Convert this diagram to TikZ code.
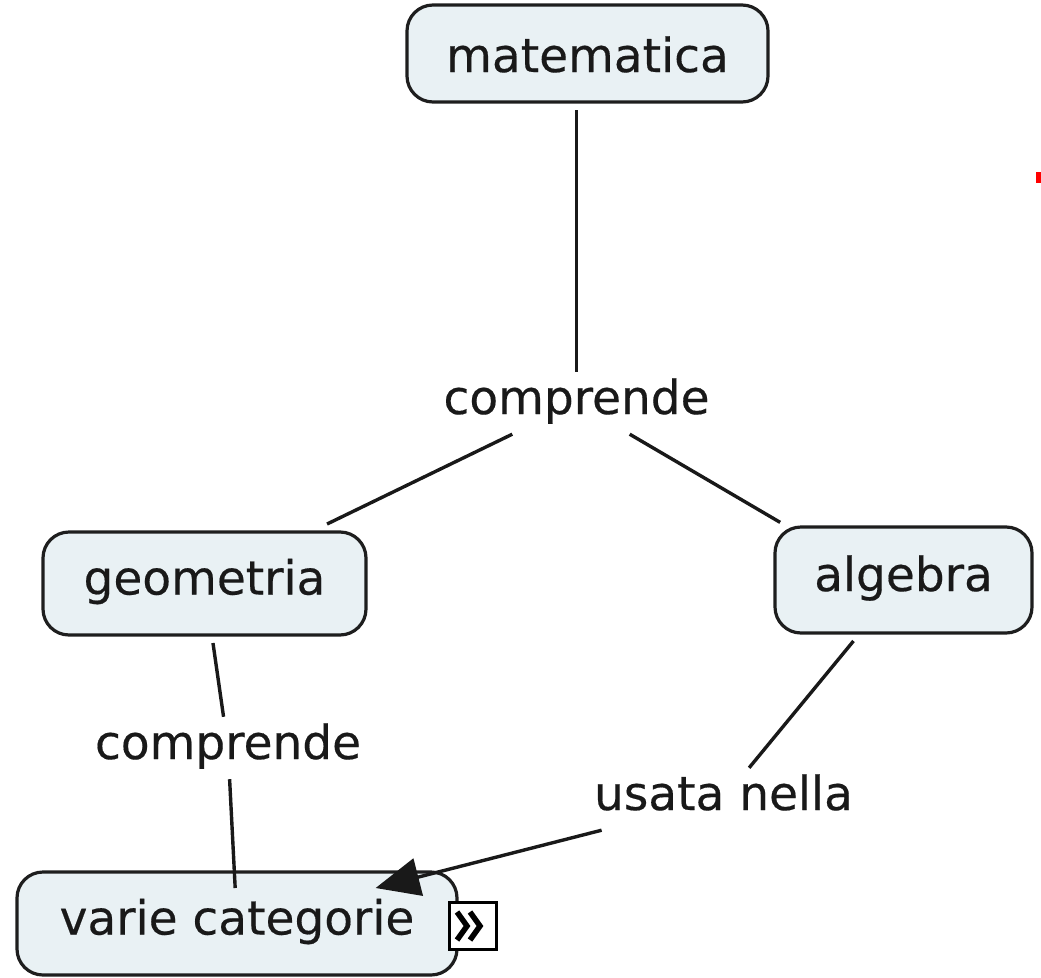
\documentclass[tikz,border=0pt]{standalone}
\usepackage{fontspec}
\setmainfont{DejaVu Sans}[FakeBold=0.35]
\usetikzlibrary{arrows.meta,calc}
\definecolor{boxfill}{RGB}{233,241,244}
\definecolor{boxdraw}{RGB}{30,30,30}
\definecolor{txt}{RGB}{25,25,25}
\begin{document}
\begin{tikzpicture}[x=1pt,y=-1pt,
  concept/.style={draw=boxdraw, fill=boxfill, text=txt, line width=3.2pt, rounded corners=26pt,
    inner sep=0pt, outer sep=8pt, font=\fontsize{47}{56}\selectfont,
    text height=33pt, text depth=11pt},
  linklabel/.style={inner xsep=4pt, inner ysep=9pt, anchor=base, text=txt,
    font=\fontsize{47}{56}\selectfont, text height=33pt, text depth=11pt},
  conn/.style={line width=3.4pt, draw=black!90}]
\useasboundingbox (0,0) rectangle (1041,977);
% concepts
\node[concept, minimum width=361pt, minimum height=97pt, text height=37pt, text depth=0pt] (mat) at (587.5,53.5) {matematica};
\node[concept, minimum width=323pt, minimum height=103pt] (geo) at (204.5,583.5) {geometria};
\node[concept, minimum width=257pt, minimum height=106pt] (alg) at (903.5,580) {algebra};
\node[concept, minimum width=440pt, minimum height=103pt, outer sep=-16pt] (var) at (237,923.5) {varie categorie};
% linking phrases
\node[linklabel] (c1) at (576.5,414) {comprende};
\node[linklabel] (c2) at (228,759) {comprende};
\node[linklabel] (usata) at (723.5,810) {usata nella};
% icon
\node[draw=black, fill=white, line width=2.4pt, minimum size=47pt, inner sep=0pt] (icon) at (473,926) {};
\draw[line width=5.5pt, miter limit=4] ($(icon.center)+(-16,-14)$) -- ++(10,14) -- ++(-10,14);
\draw[line width=5.5pt, miter limit=4] ($(icon.center)+(-3,-14)$) -- ++(10,14) -- ++(-10,14);
% connectors
\draw[conn] (mat.south -| c1.north) -- (c1.north);
\draw[conn] (c1) -- (geo);
\coordinate (algin) at ([xshift=-25pt]alg.center);
\draw[conn, shorten >=114pt] (c1) -- (algin);
\draw[conn] (geo) -- (c2);
\draw[conn] (c2) -- (var);
\draw[conn] (alg) -- (usata);
\draw[conn, -{Triangle[length=44pt,width=38pt]}] (usata) -- (var);
% stray red mark
\fill[red] (1036,172) rectangle (1041,183);
\end{tikzpicture}
\end{document}
